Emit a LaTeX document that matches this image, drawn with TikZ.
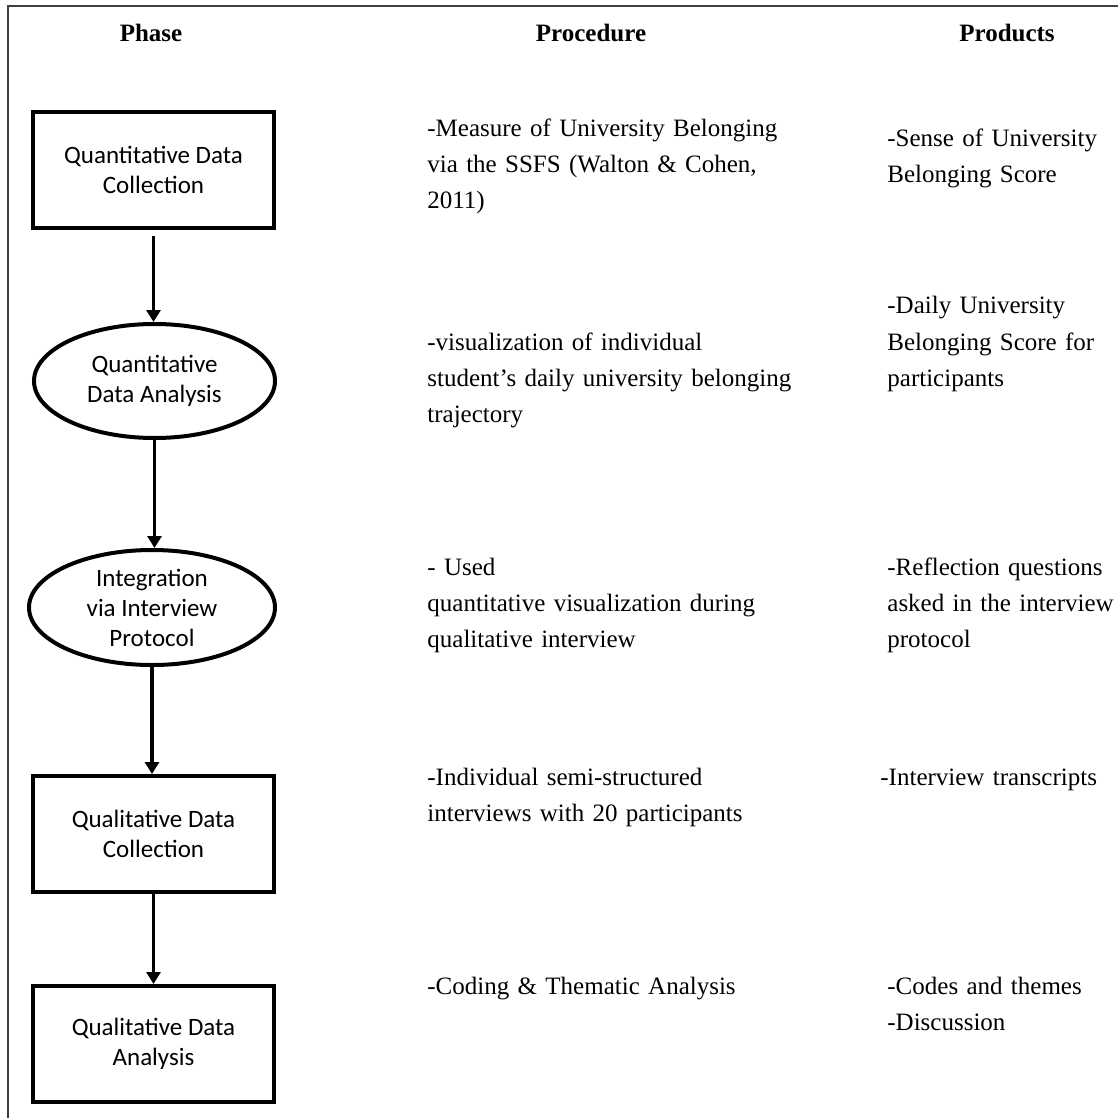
\documentclass[tikz,border=0pt]{standalone}
\usepackage{fontspec}
\setmainfont{Liberation Serif}
\newfontfamily\calib{Carlito}
\usetikzlibrary{shapes.geometric,arrows.meta}
\begin{document}
\begin{tikzpicture}[x=0.5pt,y=-0.5pt,
  phasebox/.style={draw, line width=2pt, rectangle, inner sep=0pt,
    minimum width=120.5pt, minimum height=58pt, align=center,
    font=\calib\fontsize{12.5}{15}\selectfont},
  phaseell/.style={draw, line width=2pt, ellipse, inner sep=0pt, align=center,
    font=\calib\fontsize{12.5}{15}\selectfont},
  flow/.style={line width=1.75pt, -{Triangle[length=6pt,width=7pt]}},
  head/.style={font=\bfseries\fontsize{12.5}{15}\selectfont, anchor=base, inner sep=0pt},
  proc/.style={font=\fontsize{12.5}{18}\selectfont, anchor=base west, inner sep=0pt,
    align=left, text width=240pt},
  prod/.style={font=\fontsize{12.5}{18}\selectfont, anchor=base west, inner sep=0pt,
    align=left, text width=125pt},
  frame/.style={line width=0.8pt, black!75}
]
\useasboundingbox (0,0) rectangle (1118,1118);
\fill[white] (0,0) rectangle (1118,1118);
% outer frame (top and left edges)
\coordinate (fr) at (1118,6);
\coordinate (fc) at (8,6);
\coordinate (fb) at (8,1118);
\draw[frame] (fr) -- (fc) -- (fb);

% headers
\node[head] (hphase) at (151,42) {Phase};
\node[head] (hproc) at (591,42) {Procedure};
\node[head] (hprod) at (1007,42) {Products};

% phase shapes
\node[phasebox] (b1) at (153.5,170) {Quantitative Data\\Collection};
\node[phaseell, minimum width=120.5pt, minimum height=57pt] (e1) at (154.5,381)
  {Quantitative\\Data Analysis};
\node[phaseell, minimum width=123pt, minimum height=57.5pt] (e2) at (152,607.5)
  {Integration\\via Interview\\Protocol};
\node[phasebox] (b2) at (153.5,834) {Qualitative Data\\Collection};
\node[phasebox] (b3) at (153.5,1044) {Qualitative Data\\Analysis};

% connectors
\draw[flow, shorten <=3pt] (b1.south) -- (b1.south |- e1.north);
\draw[flow] (e1.south) -- (e1.south |- e2.north);
\draw[flow] (e2.south) -- (e2.south |- b2.north);
\draw[flow] (b2.south) -- (b2.south |- b3.north);

% procedures
\node[proc] (p1) at (427,137) {-Measure of University Belonging\\via the SSFS (Walton \& Cohen,\\2011)};
\node[proc] (p2) at (427,350) {-visualization of individual\\student's daily university belonging\\trajectory};
\node[proc] (p3) at (427,575) {- Used\\quantitative visualization during\\qualitative interview};
\node[proc] (p4) at (427,785) {-Individual semi-structured\\interviews with 20 participants};
\node[proc] (p5) at (427,994) {-Coding \& Thematic Analysis};

% products
\node[prod] (q1) at (887,147) {-Sense of University\\Belonging Score};
\node[prod] (q2) at (887,314) {-Daily University\\Belonging Score for\\participants};
\node[prod] (q3) at (887,575) {-Reflection questions\\asked in the interview\\protocol};
\node[prod] (q4) at (880,785) {-Interview transcripts};
\node[prod] (q5) at (887,994) {-Codes and themes\\-Discussion};
\end{tikzpicture}
\end{document}
